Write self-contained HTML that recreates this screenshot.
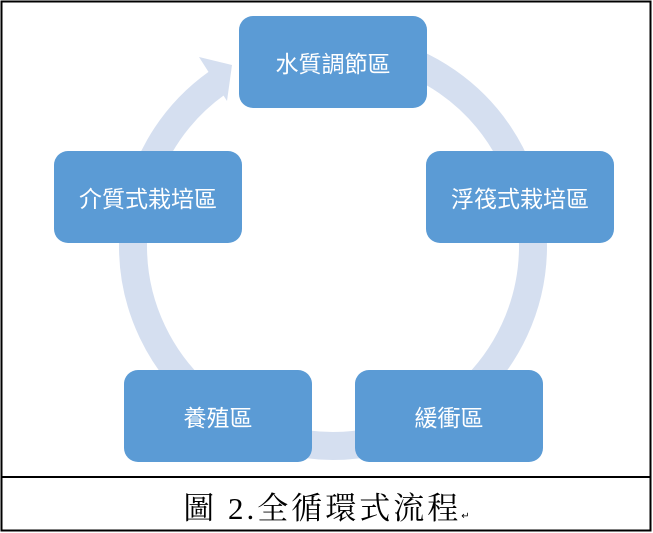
<!DOCTYPE html>
<html><head><meta charset="utf-8"><style>
body{margin:0;width:653px;height:533px;background:#fff;overflow:hidden;position:relative}
.b{position:absolute;background:#5b9bd5;border-radius:14px;color:#fff;font:23px "Liberation Sans","Noto Sans CJK TC",sans-serif;letter-spacing:0px;display:flex;align-items:center;justify-content:center;width:188px;height:92px}
.cap{position:absolute;left:0;width:653px;top:483px;text-align:center;font:31px "Liberation Serif","Noto Serif CJK SC",serif;color:#000;letter-spacing:3px}
</style></head><body>
<svg width="653" height="533" style="position:absolute;left:0;top:0">
<path d="M 368 49 A 200 200 0 1 1 217 83" fill="none" stroke="#d5dff0" stroke-width="28"/>
<polygon points="199,57 232,65 227,101" fill="#d5dff0"/>
<rect x="1.5" y="1.5" width="649" height="529" fill="none" stroke="#000" stroke-width="2"/>
<line x1="1" y1="477" x2="651" y2="477" stroke="#000" stroke-width="2"/>
</svg>
<div class="b" style="left:239px;top:16px">水質調節區</div>
<div class="b" style="left:426px;top:151px">浮筏式栽培區</div>
<div class="b" style="left:355px;top:370px">緩衝區</div>
<div class="b" style="left:124px;top:370px">養殖區</div>
<div class="b" style="left:54px;top:151px">介質式栽培區</div>
<div class="cap">圖 2.全循環式流程<span style="font-size:10px;letter-spacing:0">↵</span></div>
</body></html>
